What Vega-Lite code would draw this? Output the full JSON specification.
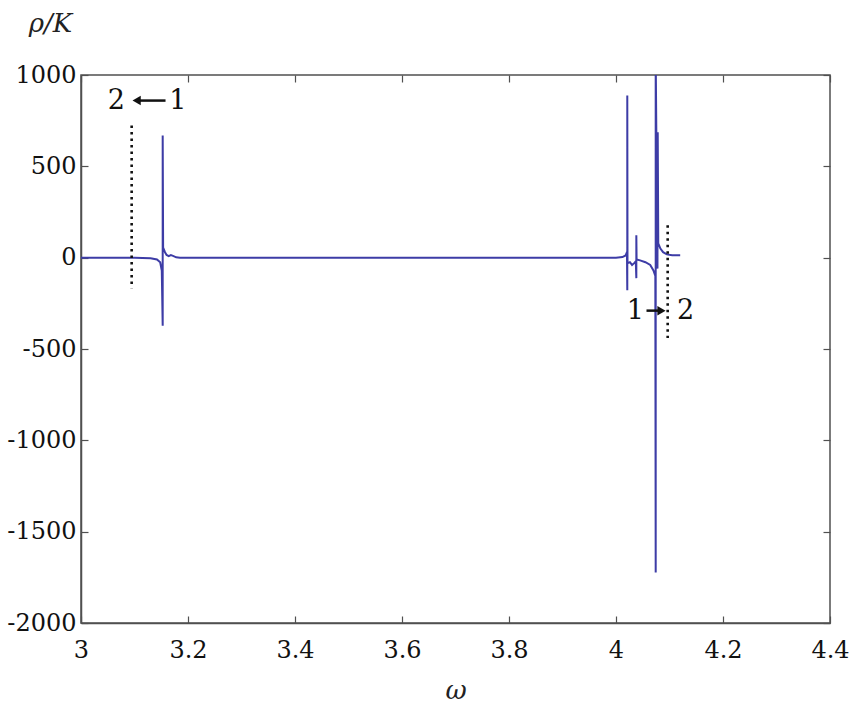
{
  "$schema": "https://vega.github.io/schema/vega-lite/v6.json",
  "width": 749,
  "height": 548,
  "autosize": {"type": "none"},
  "padding": {"left": 81, "top": 75, "right": 21, "bottom": 86},
  "background": "white",
  "config": {
    "view": {"stroke": "#505050", "strokeWidth": 1.5},
    "font": "DejaVu Serif",
    "text": {"font": "DejaVu Serif"},
    "axis": {
      "labelFont": "DejaVu Serif",
      "titleFont": "DejaVu Serif",
      "labelFontSize": 24,
      "labelColor": "#111",
      "domainColor": "#505050",
      "domainWidth": 1.5,
      "tickColor": "#505050",
      "tickWidth": 1.2,
      "grid": false
    }
  },
  "datasets": {
    "main": [
      {"w": 3.000, "rho": 0, "i": 0},
      {"w": 3.100, "rho": 0, "i": 1},
      {"w": 3.130, "rho": -3, "i": 2},
      {"w": 3.142, "rho": -10, "i": 3},
      {"w": 3.148, "rho": -25, "i": 4},
      {"w": 3.151, "rho": -70, "i": 5},
      {"w": 3.1527, "rho": -373, "i": 6},
      {"w": 3.1527, "rho": 669, "i": 7},
      {"w": 3.1535, "rho": 55, "i": 8},
      {"w": 3.157, "rho": 30, "i": 9},
      {"w": 3.160, "rho": 15, "i": 10},
      {"w": 3.164, "rho": 8, "i": 11},
      {"w": 3.168, "rho": 14, "i": 12},
      {"w": 3.172, "rho": 10, "i": 13},
      {"w": 3.178, "rho": 2, "i": 14},
      {"w": 3.185, "rho": 0, "i": 15},
      {"w": 4.000, "rho": 0, "i": 16},
      {"w": 4.012, "rho": 3, "i": 17},
      {"w": 4.018, "rho": 12, "i": 18},
      {"w": 4.0205, "rho": 30, "i": 19},
      {"w": 4.0211, "rho": -178, "i": 20},
      {"w": 4.0211, "rho": 888, "i": 21},
      {"w": 4.0215, "rho": -30, "i": 22},
      {"w": 4.026, "rho": -25, "i": 23},
      {"w": 4.030, "rho": -40, "i": 24},
      {"w": 4.034, "rho": -30, "i": 25},
      {"w": 4.037, "rho": -20, "i": 26},
      {"w": 4.038, "rho": -112, "i": 27},
      {"w": 4.038, "rho": 123, "i": 28},
      {"w": 4.0385, "rho": -10, "i": 29},
      {"w": 4.045, "rho": -15, "i": 30},
      {"w": 4.055, "rho": -25, "i": 31},
      {"w": 4.064, "rho": -40, "i": 32},
      {"w": 4.070, "rho": -70, "i": 33},
      {"w": 4.0735, "rho": -100, "i": 34},
      {"w": 4.0742, "rho": -1724, "i": 35},
      {"w": 4.0742, "rho": 1100, "i": 36},
      {"w": 4.0775, "rho": -60, "i": 37},
      {"w": 4.078, "rho": 687, "i": 38},
      {"w": 4.079, "rho": 78, "i": 39},
      {"w": 4.083, "rho": 50, "i": 40},
      {"w": 4.088, "rho": 30, "i": 41},
      {"w": 4.095, "rho": 18, "i": 42},
      {"w": 4.105, "rho": 13, "i": 43},
      {"w": 4.120, "rho": 13, "i": 44}
    ],
    "dotted": [
      {"w": 3.0947, "rho": 724, "rho2": -167},
      {"w": 4.0966, "rho": 178, "rho2": -440}
    ],
    "labels": [
      {"w": 3.066, "rho": 860, "t": "2"},
      {"w": 3.181, "rho": 860, "t": "1"},
      {"w": 4.036, "rho": -290, "t": "1"},
      {"w": 4.130, "rho": -290, "t": "2"}
    ],
    "arrows": [
      {"w": 3.158, "w2": 3.108, "rho": 860},
      {"w": 4.057, "w2": 4.082, "rho": -290}
    ],
    "heads": [
      {"w": 3.104, "rho": 860, "shape": "triangle-left"},
      {"w": 4.085, "rho": -290, "shape": "triangle-right"}
    ]
  },
  "resolve": {"axis": {"x": "independent", "y": "independent"}},
  "layer": [
    {
      "encoding": {
        "x": {
          "field": "w", "type": "quantitative",
          "scale": {"domain": [3, 4.4], "nice": false, "zero": false},
          "axis": {
            "orient": "bottom",
            "values": [3, 3.2, 3.4, 3.6, 3.8, 4, 4.2, 4.4],
            "format": "~g",
            "tickSize": -7,
            "labelPadding": 22,
            "labelFlush": false,
            "title": "ω",
            "titleFontSize": 26,
            "titleFontStyle": "italic",
            "titleFontWeight": "normal",
            "titleColor": "#222",
            "titleY": 67,
            "titleBaseline": "middle"
          }
        },
        "y": {
          "field": "rho", "type": "quantitative",
          "scale": {"domain": [-2000, 1000], "nice": false, "zero": false},
          "axis": {
            "orient": "left",
            "values": [-2000, -1500, -1000, -500, 0, 500, 1000],
            "format": "d",
            "labelExpr": "replace(datum.label, '−', '-')",
            "tickSize": -7,
            "labelPadding": 12,
            "labelFlush": false,
            "title": "ρ/K",
            "titleAngle": 0,
            "titleFontSize": 26,
            "titleFontStyle": "italic",
            "titleFontWeight": "normal",
            "titleColor": "#222",
            "titleX": -31,
            "titleY": -52,
            "titleAlign": "center",
            "titleBaseline": "middle"
          }
        }
      },
      "layer": [
        {
          "data": {"name": "main"},
          "mark": {"type": "line", "color": "#3d3ca6", "strokeWidth": 2, "clip": true},
          "encoding": {"order": {"field": "i", "type": "quantitative"}}
        },
        {
          "data": {"name": "dotted"},
          "mark": {"type": "rule", "color": "#111", "strokeWidth": 2.6, "strokeDash": [2.5, 4]},
          "encoding": {"y2": {"field": "rho2"}}
        },
        {
          "data": {"name": "arrows"},
          "mark": {"type": "rule", "color": "#111", "strokeWidth": 2.5},
          "encoding": {"x2": {"field": "w2"}}
        },
        {
          "data": {"name": "heads"},
          "mark": {"type": "point", "filled": true, "color": "#111", "size": 90, "opacity": 1},
          "encoding": {"shape": {"field": "shape", "type": "nominal", "scale": null}}
        },
        {
          "data": {"name": "labels"},
          "mark": {"type": "text", "font": "DejaVu Serif", "fontSize": 27, "color": "#111", "baseline": "middle", "align": "center"},
          "encoding": {"text": {"field": "t"}}
        }
      ]
    },
    {
      "data": {"name": "main"},
      "mark": {"type": "line", "opacity": 0},
      "encoding": {
        "x": {
          "field": "w", "type": "quantitative",
          "scale": {"domain": [3, 4.4], "nice": false, "zero": false},
          "axis": {"orient": "top", "labels": false, "tickSize": -7, "title": null, "domain": false, "values": [3, 3.2, 3.4, 3.6, 3.8, 4, 4.2, 4.4]}
        },
        "y": {
          "field": "rho", "type": "quantitative",
          "scale": {"domain": [-2000, 1000], "nice": false, "zero": false},
          "axis": {"orient": "right", "labels": false, "tickSize": -7, "title": null, "domain": false, "values": [-2000, -1500, -1000, -500, 0, 500, 1000]}
        }
      }
    }
  ]
}
